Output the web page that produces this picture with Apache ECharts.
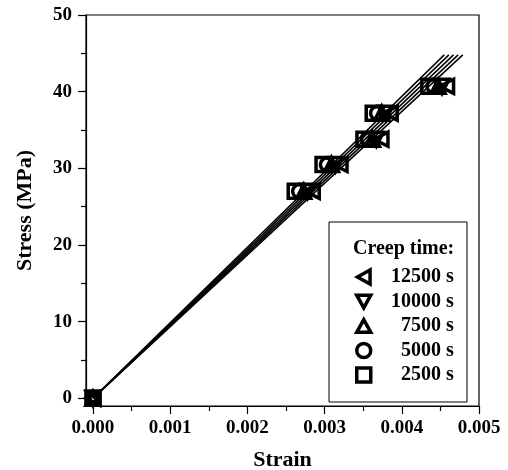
<!DOCTYPE html>
<html>
<head>
<meta charset="utf-8">
<script src="https://cdn.jsdelivr.net/npm/echarts@6/dist/echarts.min.js"></script>
<style>
	html, body { margin: 0; padding: 0; background: #fff; }
	#chart { width: 508px; height: 470px; }
</style>
</head>
<body>
<div id="chart"></div>
<script>
// stress levels (MPa)
var stress = [0, 27.0, 30.5, 33.8, 37.2, 40.7];
// strain per creep time
var strain2500 = [0, 0.00262, 0.00298, 0.00351, 0.00363, 0.00435];
var strain5000 = [0, 0.00267, 0.00303, 0.00356, 0.00368, 0.00441];
var strain7500 = [0, 0.00273, 0.00309, 0.00362, 0.00374, 0.00447];
var strain10000 = [0, 0.00278, 0.00314, 0.00367, 0.00379, 0.00452];
var strain12500 = [0, 0.00284, 0.00320, 0.00373, 0.00385, 0.00458];
// fitted lines: end point of each line through origin
var lineEndStress = 44.8;
var lineEndStrain = [0.00455, 0.00461, 0.00467, 0.00473, 0.00479];
var names = ['12500 s', '10000 s', '7500 s', '5000 s', '2500 s'];
var xTicks = [0, 0.001, 0.002, 0.003, 0.004, 0.005];
var xMinor = [0.0005, 0.0015, 0.0025, 0.0035, 0.0045];
var yTicks = [0, 10, 20, 30, 40, 50];
var yMinor = [5, 15, 25, 35, 45];

var font = 'Liberation Serif';

function pairs(xs, ys) {
	var out = [];
	for(var i = 0; i < xs.length; i++) {
		out.push([xs[i], ys[i]]);
	}
	return out;
}

var symbols = {
	'12500 s': 'path://M0,5 L9,0 L9,10 Z',
	'10000 s': 'path://M0,0 L10,0 L5,9 Z',
	'7500 s': 'path://M5,0 L10,9 L0,9 Z',
	'5000 s': 'circle',
	'2500 s': 'rect'
};
var strains = {
	'12500 s': strain12500,
	'10000 s': strain10000,
	'7500 s': strain7500,
	'5000 s': strain5000,
	'2500 s': strain2500
};
var markStyle = { color: 'rgba(0,0,0,0)', borderColor: '#000', borderWidth: 3.5, opacity: 1 };

var series = [];
for(var k = 0; k < lineEndStrain.length; k++) { //拟合直线
	series.push({
		type: 'line',
		name: 'fit' + k,
		data: [[0, 0], [lineEndStrain[k], lineEndStress]],
		symbol: 'none',
		silent: true,
		lineStyle: { color: '#000', width: 1.5 },
		z: 1
	});
}
for(var n = names.length - 1; n >= 0; n--) { //数据点
	var nm = names[n];
	series.push({
		type: 'scatter',
		name: nm,
		data: pairs(strains[nm], stress),
		symbol: symbols[nm],
		symbolSize: nm == '5000 s' ? 13 : 14,
		itemStyle: markStyle,
		z: 2
	});
}

var chart = echarts.init(document.getElementById('chart'));
var option = {
	animation: false,
	backgroundColor: '#fff',
	grid: {
		left: 86, right: 29, top: 15, bottom: 64,
		containLabel: false, outerBoundsMode: 'none',
		show: true, borderColor: '#000', borderWidth: 1.2, backgroundColor: 'transparent'
	},
	xAxis: [{
		type: 'value',
		min: -0.00009,
		max: 0.005,
		name: 'Strain',
		nameLocation: 'middle',
		nameGap: 43,
		nameTextStyle: { fontFamily: font, fontWeight: 'bold', fontSize: 22, color: '#000' },
		splitLine: { show: false },
		axisLine: { show: true, onZero: false, lineStyle: { color: '#000', width: 1.2 } },
		axisTick: { show: true, customValues: xTicks, length: 8, lineStyle: { color: '#000', width: 1.2 } },
		axisLabel: {
			customValues: xTicks, margin: 13,
			fontFamily: font, fontWeight: 'bold', fontSize: 19, color: '#000',
			formatter: function(v) { return v.toFixed(3); }
		}
	}, {
		type: 'value',
		min: -0.00009,
		max: 0.005,
		position: 'bottom',
		splitLine: { show: false },
		axisLine: { show: false, onZero: false },
		axisTick: { show: true, customValues: xMinor, length: 5, lineStyle: { color: '#000', width: 1.2 } },
		axisLabel: { show: false }
	}],
	yAxis: [{
		type: 'value',
		min: -1,
		max: 50,
		name: 'Stress (MPa)',
		nameLocation: 'middle',
		nameGap: 50,
		nameTextStyle: { fontFamily: font, fontWeight: 'bold', fontSize: 22, color: '#000' },
		splitLine: { show: false },
		axisLine: { show: true, onZero: false, lineStyle: { color: '#000', width: 1.2 } },
		axisTick: { show: true, customValues: yTicks, length: 8, lineStyle: { color: '#000', width: 1.2 } },
		axisLabel: {
			customValues: yTicks, margin: 14,
			fontFamily: font, fontWeight: 'bold', fontSize: 19, color: '#000'
		}
	}, {
		type: 'value',
		min: -1,
		max: 50,
		position: 'left',
		splitLine: { show: false },
		axisLine: { show: false, onZero: false },
		axisTick: { show: true, customValues: yMinor, length: 5, lineStyle: { color: '#000', width: 1.2 } },
		axisLabel: { show: false }
	}],
	legend: {
		data: names,
		orient: 'vertical',
		left: 350,
		top: 262,
		itemWidth: 14,
		itemHeight: 14,
		itemGap: 4.5,
		selectedMode: false,
		itemStyle: markStyle,
		formatter: '{a|{name}}',
		textStyle: {
			fontFamily: font, fontWeight: 'bold', fontSize: 20, color: '#000',
			rich: { a: { width: 78, align: 'right', fontFamily: font, fontWeight: 'bold', fontSize: 20, color: '#000' } }
		}
	},
	graphic: [{
		type: 'rect',
		shape: { x: 329, y: 222, width: 138, height: 180 },
		style: { fill: '#fff', stroke: '#000', lineWidth: 1 },
		z: 0
	}, {
		type: 'text',
		left: 353,
		top: 239,
		style: { text: 'Creep time:', font: 'bold 20px "Liberation Serif"', fill: '#000' },
		z: 10
	}],
	series: series
};
chart.setOption(option);
</script>
</body>
</html>
